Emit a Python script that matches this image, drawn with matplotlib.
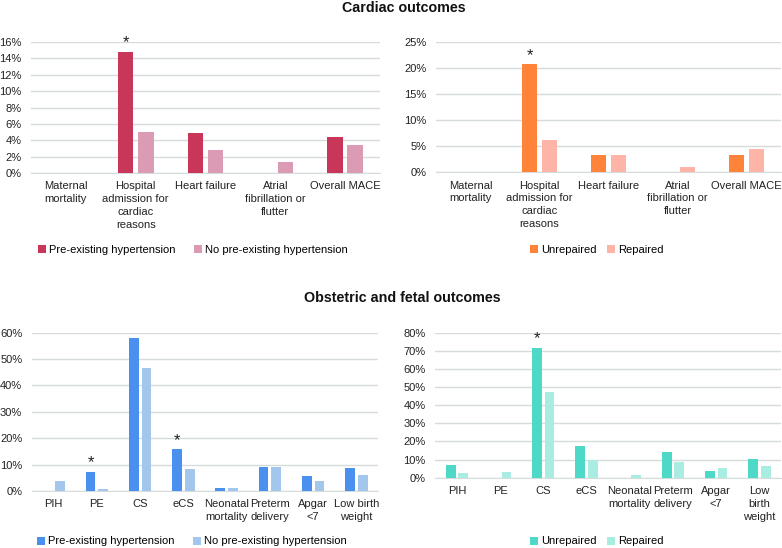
import matplotlib.pyplot as plt
import numpy as np
from matplotlib.ticker import FuncFormatter

plt.rcParams['font.family'] = ['Liberation Sans', 'DejaVu Sans']

# cardiac outcomes
cardiac_cats = ['Maternal\nmortality', 'Hospital\nadmission for\ncardiac\nreasons',
                'Heart failure', 'Atrial\nfibrillation or\nflutter', 'Overall MACE']
htn_pre = [0, 14.8, 4.85, 0, 4.35]
htn_none = [0, 5.0, 2.75, 1.35, 3.4]
unrep_card = [0, 20.7, 3.4, 0, 3.4]
rep_card = [0, 6.2, 3.3, 1.1, 4.4]

# obstetric and fetal outcomes
obs_cats_l = ['PIH', 'PE', 'CS', 'eCS', 'Neonatal\nmortality', 'Preterm\ndelivery',
              'Apgar\n<7', 'Low birth\nweight']
obs_cats_r = ['PIH', 'PE', 'CS', 'eCS', 'Neonatal\nmortality', 'Preterm\ndelivery',
              'Apgar\n<7', 'Low\nbirth\nweight']
htn_pre_obs = [0, 7.3, 58.0, 15.9, 1.1, 9.0, 5.5, 8.6]
htn_none_obs = [3.8, 0.9, 46.5, 8.3, 1.3, 9.2, 3.8, 6.1]
unrep_obs = [7.0, 0, 71.6, 17.3, 0, 14.3, 3.5, 10.3]
rep_obs = [2.4, 3.1, 47.3, 9.6, 1.5, 8.7, 5.2, 6.3]

W, H = 782, 548
fig = plt.figure(figsize=(W / 100, H / 100), dpi=100)


def rect(l, t, r, b):
    return [l / W, 1 - b / H, (r - l) / W, (b - t) / H]


def panel(box, cats, a, b, c1, c2, names, ymax, step, stars, leg_x, leg_y, colsp):
    ax = fig.add_axes(rect(*box))
    x = np.arange(len(cats))
    w = 0.225
    ax.bar(x - 0.145, a, w, color=c1, label=names[0], zorder=3)
    ax.bar(x + 0.145, b, w, color=c2, label=names[1], zorder=3)
    for i in stars:
        ax.annotate('*', (x[i] - 0.145, a[i]), xytext=(0, 1), textcoords='offset points',
                    ha='center', va='bottom', fontsize=12, color='#222222')
    ax.set_xlim(-0.5, len(cats) - 0.5)
    ax.set_ylim(0, ymax)
    ax.set_yticks(np.arange(0, ymax + 0.01, step))
    ax.yaxis.set_major_formatter(FuncFormatter(lambda v, p: f'{v:.0f}%'))
    ax.set_xticks(x)
    ax.set_xticklabels(cats, fontsize=8, color='#222222', linespacing=1.35)
    ax.tick_params(axis='y', labelsize=8, labelcolor='#222222', length=0, pad=7)
    ax.tick_params(axis='x', length=0, pad=6)
    for s in ['top', 'right', 'left']:
        ax.spines[s].set_visible(False)
    ax.spines['bottom'].set_color('#D6DCDC')
    ax.grid(axis='y', color='#D6DCDC', linewidth=1, zorder=0)
    ax.set_axisbelow(True)
    ax.legend(loc='center', bbox_to_anchor=(leg_x / W, 1 - leg_y / H),
              bbox_transform=fig.transFigure, ncol=2, frameon=False, fontsize=8,
              handlelength=0.7, handleheight=0.7, handletextpad=0.3, columnspacing=colsp)
    return ax


panel((31, 42, 380, 173), cardiac_cats, htn_pre, htn_none, '#C8375A', '#DC9BB4',
      ['Pre-existing hypertension', 'No pre-existing hypertension'], 16, 2, [1], 193, 250, 1.6)
panel((436, 41.7, 781, 172.3), cardiac_cats, unrep_card, rep_card, '#FF8339', '#FFB4A8',
      ['Unrepaired', 'Repaired'], 25, 5, [1], 597, 250, 0.9)
panel((32, 332.7, 378, 491), obs_cats_l, htn_pre_obs, htn_none_obs, '#4A90EE', '#A3C6EC',
      ['Pre-existing hypertension', 'No pre-existing hypertension'], 60, 10, [1, 3], 192, 541.5, 1.6)
panel((435.3, 332.7, 781, 477.7), obs_cats_r, unrep_obs, rep_obs, '#4DD8C8', '#A8ECE2',
      ['Unrepaired', 'Repaired'], 80, 10, [2], 597, 541.5, 0.9)

fig.text(404 / W, 1 - 8 / H, 'Cardiac outcomes', ha='center', va='center',
         fontsize=10.3, fontweight='bold', color='#111111')
fig.text(402 / W, 1 - 298 / H, 'Obstetric and fetal outcomes', ha='center', va='center',
         fontsize=10.3, fontweight='bold', color='#111111')

fig.savefig('out.png', dpi=100)
